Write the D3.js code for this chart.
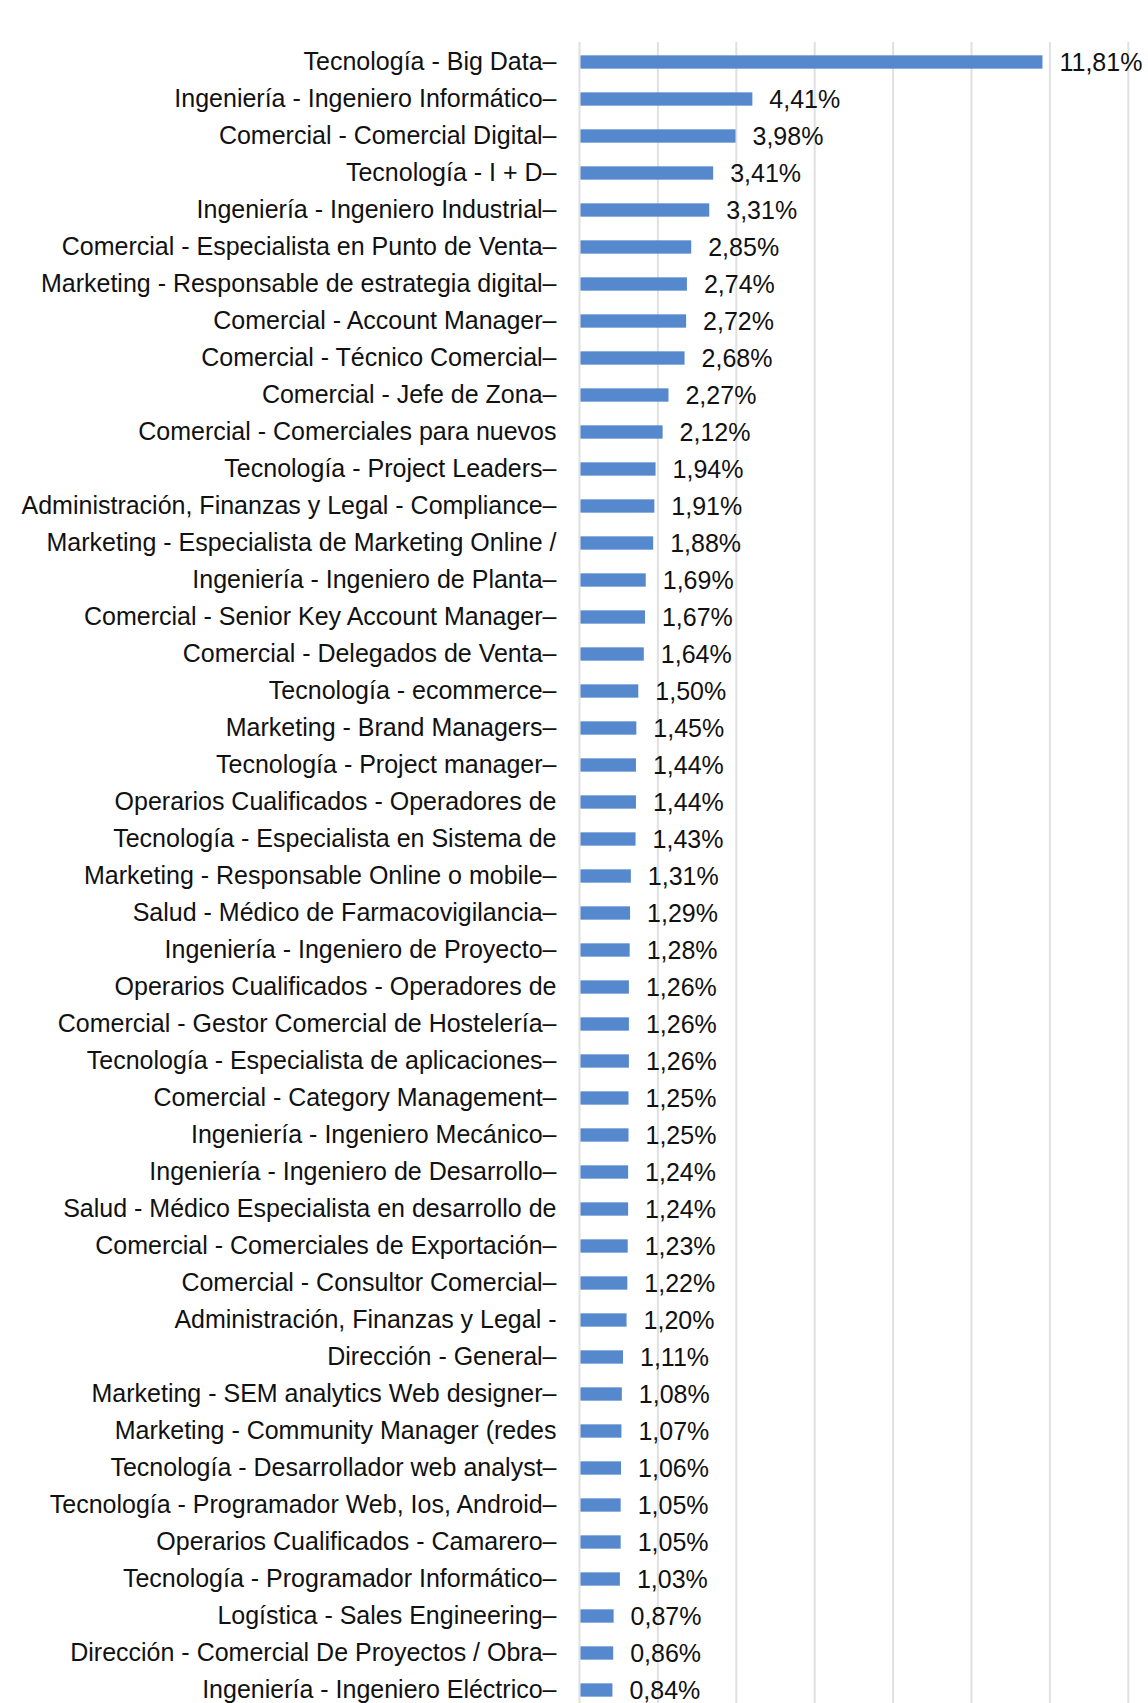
<!doctype html>
<html lang="es">
<head>
<meta charset="utf-8">
<title>Ofertas por puesto</title>
<script src="https://cdn.jsdelivr.net/npm/d3@7"></script>
<style>
  body { margin: 0; background: #fff; }
  text { font-family: "Liberation Sans", Arial, sans-serif; }
</style>
</head>
<body>
<script>
    // categories, top to bottom, as they appear (long ones are cut in the original)
    var puestos = [
        "Tecnología - Big Data",
        "Ingeniería - Ingeniero Informático",
        "Comercial - Comercial Digital",
        "Tecnología - I + D",
        "Ingeniería - Ingeniero Industrial",
        "Comercial - Especialista en Punto de Venta",
        "Marketing - Responsable de estrategia digital",
        "Comercial - Account Manager",
        "Comercial - Técnico Comercial",
        "Comercial - Jefe de Zona",
        "Comercial - Comerciales para nuevos",
        "Tecnología - Project Leaders",
        "Administración, Finanzas y Legal - Compliance",
        "Marketing - Especialista de Marketing Online /",
        "Ingeniería - Ingeniero de Planta",
        "Comercial - Senior Key Account Manager",
        "Comercial - Delegados de Venta",
        "Tecnología - ecommerce",
        "Marketing - Brand Managers",
        "Tecnología - Project manager",
        "Operarios Cualificados - Operadores de",
        "Tecnología - Especialista en Sistema de",
        "Marketing - Responsable Online o mobile",
        "Salud - Médico de Farmacovigilancia",
        "Ingeniería - Ingeniero de Proyecto",
        "Operarios Cualificados - Operadores de ",
        "Comercial - Gestor Comercial de Hostelería",
        "Tecnología - Especialista de aplicaciones",
        "Comercial - Category Management",
        "Ingeniería - Ingeniero Mecánico",
        "Ingeniería - Ingeniero de Desarrollo",
        "Salud - Médico Especialista en desarrollo de",
        "Comercial - Comerciales de Exportación",
        "Comercial - Consultor Comercial",
        "Administración, Finanzas y Legal -",
        "Dirección - General",
        "Marketing - SEM analytics Web designer",
        "Marketing - Community Manager (redes",
        "Tecnología - Desarrollador web analyst",
        "Tecnología - Programador Web, Ios, Android",
        "Operarios Cualificados - Camarero",
        "Tecnología - Programador Informático",
        "Logística - Sales Engineering",
        "Dirección - Comercial De Proyectos / Obra",
        "Ingeniería - Ingeniero Eléctrico"
    ];

    // share of offers, in %
    var porcentajes = [
        11.81, 4.41, 3.98, 3.41, 3.31, 2.85, 2.74, 2.72, 2.68, 2.27,
        2.12, 1.94, 1.91, 1.88, 1.69, 1.67, 1.64, 1.50, 1.45, 1.44,
        1.44, 1.43, 1.31, 1.29, 1.28, 1.26, 1.26, 1.26, 1.25, 1.25,
        1.24, 1.24, 1.23, 1.22, 1.20, 1.11, 1.08, 1.07, 1.06, 1.05,
        1.05, 1.03, 0.87, 0.86, 0.84
    ];

    // labels that were cut off in the source, so no tick dash after them
    var cortados = [
        "Comercial - Comerciales para nuevos",
        "Marketing - Especialista de Marketing Online /",
        "Operarios Cualificados - Operadores de",
        "Operarios Cualificados - Operadores de ",
        "Tecnología - Especialista en Sistema de",
        "Salud - Médico Especialista en desarrollo de",
        "Administración, Finanzas y Legal -",
        "Marketing - Community Manager (redes"
    ];

    var gridTicks = [0, 2, 4, 6, 8, 10, 12, 14];

    var W = 1148, H = 1703;
    var x0 = 579.5, yTop = 43.5, step = 37;

    var data = puestos.map(function(p, i){ return {puesto: p, valor: porcentajes[i]}; });

    var svg = d3.select("body").append("svg")
            .attr("width", W).attr("height", H);

    var x = d3.scaleLinear().domain([0, 14]).range([x0, x0 + 14 * 39.2]);
    var y = d3.scaleBand().domain(puestos)
            .range([yTop, yTop + step * puestos.length])
            .paddingInner(0.64).paddingOuter(0.32);

    // vertical grid lines
    svg.append("g").selectAll("line")
        .data(gridTicks)
        .enter().append("line")
        .attr("x1", function(d){ return x(d); })
        .attr("x2", function(d){ return x(d); })
        .attr("y1", 42).attr("y2", H)
        .attr("stroke", "#e0e0e0")
        .attr("stroke-width", 2);

    // bars
    svg.append("g").selectAll("rect")
        .data(data)
        .enter().append("rect")
        .attr("x", x(0) + 1)
        .attr("y", function(d){ return y(d.puesto); })
        .attr("width", function(d){ return x(d.valor) - x(0) - 1; })
        .attr("height", y.bandwidth())
        .attr("fill", "#5588cd");

    // category axis
    var yAxis = d3.axisLeft(y)
        .tickSize(0)
        .tickPadding(23)
        .tickFormat(function(d){
            return cortados.indexOf(d) >= 0 ? d.trim() : d + "–";
        });

    var ax = svg.append("g")
        .attr("transform", "translate(" + x0 + ",0)")
        .call(yAxis);
    ax.select(".domain").remove();
    ax.selectAll("text")
        .attr("font-size", 25)
        .attr("font-family", "'Liberation Sans', Arial, sans-serif")
        .attr("fill", "#111");

    // value labels
    var fmt = d3.format(".2f");
    svg.append("g").selectAll("text")
        .data(data)
        .enter().append("text")
        .attr("x", function(d){ return x(d.valor) + 17; })
        .attr("y", function(d){ return y(d.puesto) + y.bandwidth() / 2; })
        .attr("dy", "0.35em")
        .attr("font-size", 25)
        .attr("fill", "#111")
        .text(function(d){ return fmt(d.valor).replace(".", ",") + "%"; });
</script>
</body>
</html>
